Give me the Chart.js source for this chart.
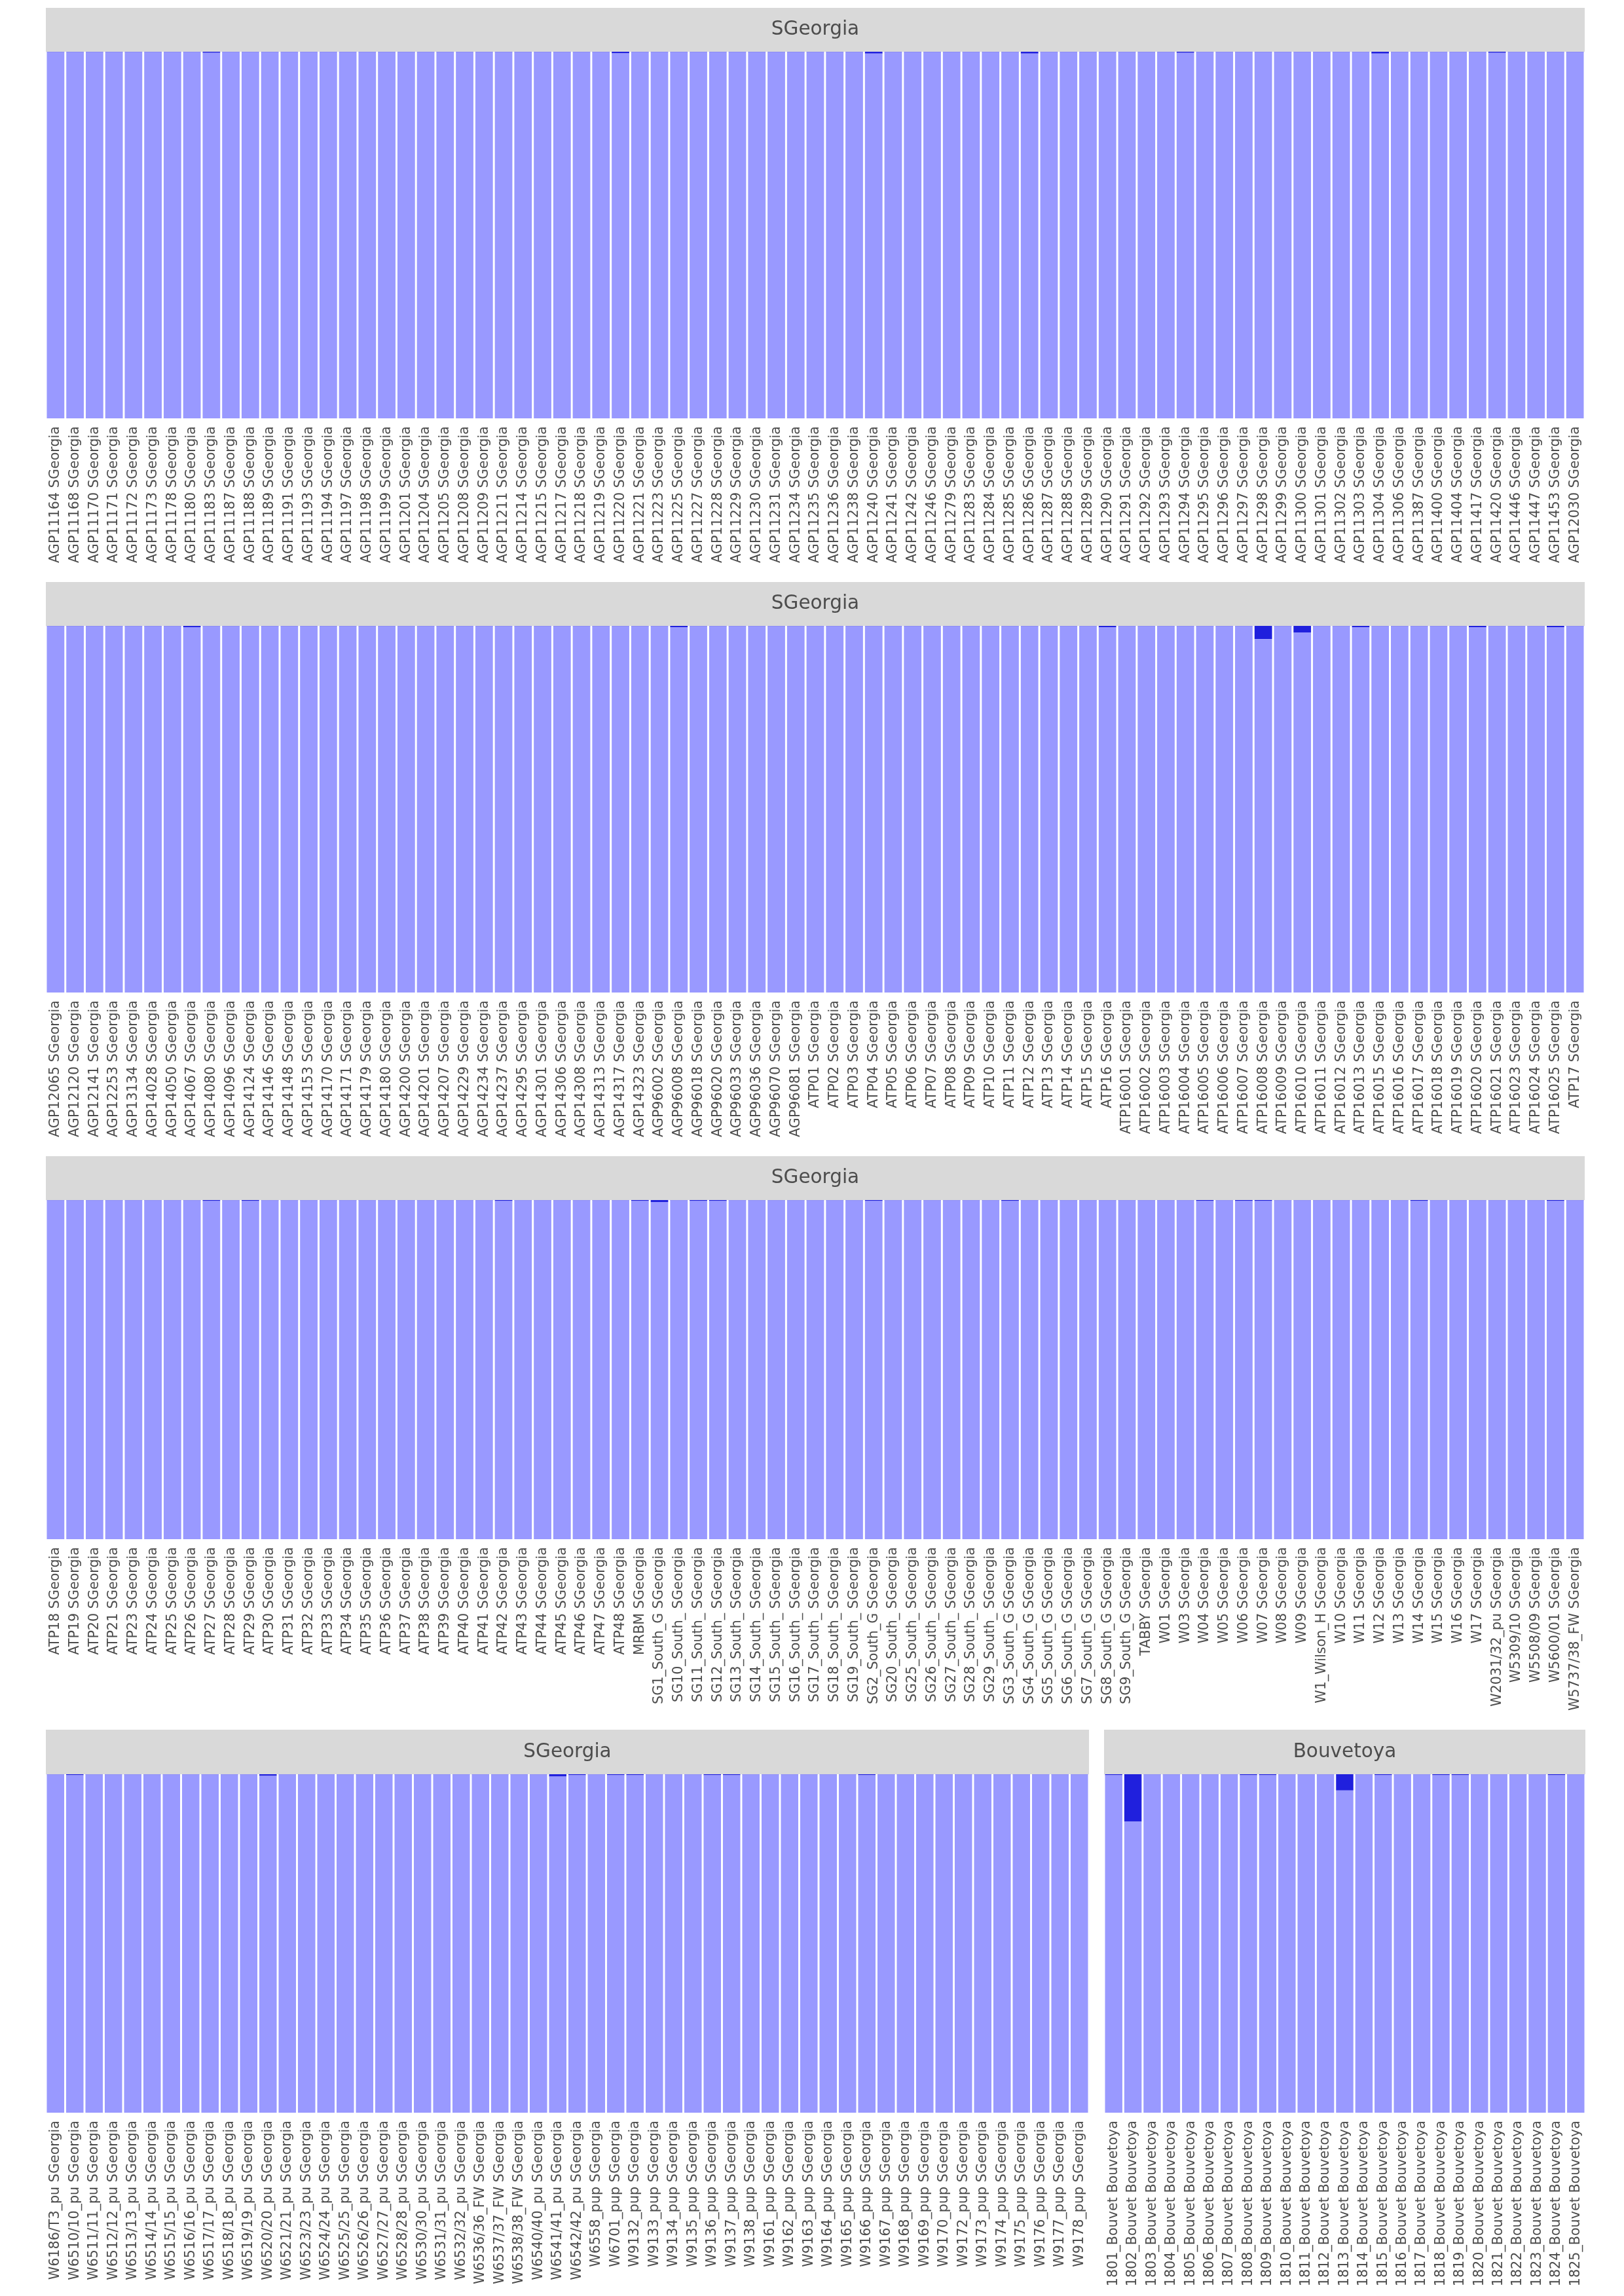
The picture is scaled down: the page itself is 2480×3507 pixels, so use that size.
<!DOCTYPE html>
<html><head><meta charset="utf-8">
<script src="https://cdn.jsdelivr.net/npm/chart.js@4.4.0/dist/chart.umd.min.js"></script>
<style>
html,body{margin:0;padding:0;background:#ffffff;}
body{width:2480px;height:3507px;position:relative;overflow:hidden;}
canvas{position:absolute;}
</style></head><body>
<canvas id="c1"></canvas>
<canvas id="c2"></canvas>
<canvas id="c3"></canvas>
<canvas id="c4"></canvas>
<canvas id="c5"></canvas>
<script>
// ---------------- DATA ----------------
const popSG = "SGeorgia";
const popBV = "Bouvetoya";

const row1Ids = ["AGP11164","AGP11168","AGP11170","AGP11171","AGP11172","AGP11173","AGP11178","AGP11180","AGP11183","AGP11187",
"AGP11188","AGP11189","AGP11191","AGP11193","AGP11194","AGP11197","AGP11198","AGP11199","AGP11201","AGP11204",
"AGP11205","AGP11208","AGP11209","AGP11211","AGP11214","AGP11215","AGP11217","AGP11218","AGP11219","AGP11220",
"AGP11221","AGP11223","AGP11225","AGP11227","AGP11228","AGP11229","AGP11230","AGP11231","AGP11234","AGP11235",
"AGP11236","AGP11238","AGP11240","AGP11241","AGP11242","AGP11246","AGP11279","AGP11283","AGP11284","AGP11285",
"AGP11286","AGP11287","AGP11288","AGP11289","AGP11290","AGP11291","AGP11292","AGP11293","AGP11294","AGP11295",
"AGP11296","AGP11297","AGP11298","AGP11299","AGP11300","AGP11301","AGP11302","AGP11303","AGP11304","AGP11306",
"AGP11387","AGP11400","AGP11404","AGP11417","AGP11420","AGP11446","AGP11447","AGP11453","AGP12030"];
const row1Dark = [0.001,0.001,0.001,0.001,0.001,0.001,0.001,0.001,0.003,0.001,
0.001,0.001,0.001,0.001,0.001,0.001,0.001,0.001,0.001,0.001,
0.001,0.001,0.001,0.001,0.001,0.001,0.001,0.001,0.001,0.0045,
0.001,0.001,0.001,0.001,0.001,0.001,0.001,0.001,0.001,0.001,
0.001,0.001,0.005,0.001,0.001,0.001,0.001,0.001,0.001,0.001,
0.005,0.001,0.001,0.001,0.001,0.001,0.001,0.001,0.003,0.001,
0.001,0.001,0.001,0.001,0.001,0.001,0.001,0.001,0.005,0.001,
0.001,0.001,0.001,0.001,0.003,0.001,0.001,0.001,0.001];
const row1Light = [0.999,0.999,0.999,0.999,0.999,0.999,0.999,0.999,0.997,0.999,
0.999,0.999,0.999,0.999,0.999,0.999,0.999,0.999,0.999,0.999,
0.999,0.999,0.999,0.999,0.999,0.999,0.999,0.999,0.999,0.9955,
0.999,0.999,0.999,0.999,0.999,0.999,0.999,0.999,0.999,0.999,
0.999,0.999,0.995,0.999,0.999,0.999,0.999,0.999,0.999,0.999,
0.995,0.999,0.999,0.999,0.999,0.999,0.999,0.999,0.997,0.999,
0.999,0.999,0.999,0.999,0.999,0.999,0.999,0.999,0.995,0.999,
0.999,0.999,0.999,0.999,0.997,0.999,0.999,0.999,0.999];

const row2Ids = ["AGP12065","AGP12120","AGP12141","AGP12253","AGP13134","AGP14028","AGP14050","AGP14067","AGP14080","AGP14096",
"AGP14124","AGP14146","AGP14148","AGP14153","AGP14170","AGP14171","AGP14179","AGP14180","AGP14200","AGP14201",
"AGP14207","AGP14229","AGP14234","AGP14237","AGP14295","AGP14301","AGP14306","AGP14308","AGP14313","AGP14317",
"AGP14323","AGP96002","AGP96008","AGP96018","AGP96020","AGP96033","AGP96036","AGP96070","AGP96081","ATP01",
"ATP02","ATP03","ATP04","ATP05","ATP06","ATP07","ATP08","ATP09","ATP10","ATP11",
"ATP12","ATP13","ATP14","ATP15","ATP16","ATP16001","ATP16002","ATP16003","ATP16004","ATP16005",
"ATP16006","ATP16007","ATP16008","ATP16009","ATP16010","ATP16011","ATP16012","ATP16013","ATP16015","ATP16016",
"ATP16017","ATP16018","ATP16019","ATP16020","ATP16021","ATP16023","ATP16024","ATP16025","ATP17"];
const row2Dark = [0.001,0.001,0.001,0.001,0.001,0.001,0.001,0.0035,0.001,0.001,
0.001,0.001,0.001,0.001,0.001,0.001,0.001,0.001,0.001,0.001,
0.001,0.001,0.001,0.001,0.001,0.001,0.001,0.001,0.001,0.001,
0.001,0.001,0.004,0.001,0.001,0.001,0.001,0.001,0.001,0.001,
0.001,0.001,0.001,0.001,0.001,0.001,0.001,0.001,0.001,0.001,
0.001,0.001,0.001,0.001,0.004,0.001,0.001,0.001,0.001,0.001,
0.001,0.001,0.036,0.001,0.018,0.001,0.001,0.004,0.001,0.001,
0.001,0.001,0.001,0.004,0.001,0.001,0.001,0.004,0.001];
const row2Light = [0.999,0.999,0.999,0.999,0.999,0.999,0.999,0.9965,0.999,0.999,
0.999,0.999,0.999,0.999,0.999,0.999,0.999,0.999,0.999,0.999,
0.999,0.999,0.999,0.999,0.999,0.999,0.999,0.999,0.999,0.999,
0.999,0.999,0.996,0.999,0.999,0.999,0.999,0.999,0.999,0.999,
0.999,0.999,0.999,0.999,0.999,0.999,0.999,0.999,0.999,0.999,
0.999,0.999,0.999,0.999,0.996,0.999,0.999,0.999,0.999,0.999,
0.999,0.999,0.964,0.999,0.982,0.999,0.999,0.996,0.999,0.999,
0.999,0.999,0.999,0.996,0.999,0.999,0.999,0.996,0.999];

const row3Ids = ["ATP18","ATP19","ATP20","ATP21","ATP23","ATP24","ATP25","ATP26","ATP27","ATP28",
"ATP29","ATP30","ATP31","ATP32","ATP33","ATP34","ATP35","ATP36","ATP37","ATP38",
"ATP39","ATP40","ATP41","ATP42","ATP43","ATP44","ATP45","ATP46","ATP47","ATP48",
"MRBM","SG1_South_G","SG10_South_","SG11_South_","SG12_South_","SG13_South_","SG14_South_","SG15_South_","SG16_South_","SG17_South_",
"SG18_South_","SG19_South_","SG2_South_G","SG20_South_","SG25_South_","SG26_South_","SG27_South_","SG28_South_","SG29_South_","SG3_South_G",
"SG4_South_G","SG5_South_G","SG6_South_G","SG7_South_G","SG8_South_G","SG9_South_G","TABBY","W01","W03","W04",
"W05","W06","W07","W08","W09","W1_Wilson_H","W10","W11","W12","W13",
"W14","W15","W16","W17","W2031/32_pu","W5309/10","W5508/09","W5600/01","W5737/38_FW"];
const row3Dark = [0.001,0.001,0.001,0.001,0.001,0.001,0.001,0.001,0.003,0.001,
0.003,0.001,0.001,0.001,0.001,0.001,0.001,0.001,0.001,0.001,
0.001,0.001,0.001,0.003,0.001,0.001,0.001,0.001,0.001,0.001,
0.003,0.006,0.001,0.003,0.003,0.001,0.001,0.001,0.001,0.001,
0.001,0.001,0.003,0.001,0.001,0.001,0.001,0.001,0.001,0.003,
0.001,0.001,0.001,0.001,0.001,0.001,0.001,0.001,0.001,0.003,
0.001,0.003,0.003,0.001,0.001,0.001,0.001,0.001,0.001,0.001,
0.003,0.001,0.001,0.001,0.001,0.001,0.001,0.003,0.001];
const row3Light = [0.999,0.999,0.999,0.999,0.999,0.999,0.999,0.999,0.997,0.999,
0.997,0.999,0.999,0.999,0.999,0.999,0.999,0.999,0.999,0.999,
0.999,0.999,0.999,0.997,0.999,0.999,0.999,0.999,0.999,0.999,
0.997,0.994,0.999,0.997,0.997,0.999,0.999,0.999,0.999,0.999,
0.999,0.999,0.997,0.999,0.999,0.999,0.999,0.999,0.999,0.997,
0.999,0.999,0.999,0.999,0.999,0.999,0.999,0.999,0.999,0.997,
0.999,0.997,0.997,0.999,0.999,0.999,0.999,0.999,0.999,0.999,
0.997,0.999,0.999,0.999,0.999,0.999,0.999,0.997,0.999];

const row4Ids = ["W6186/T3_pu","W6510/10_pu","W6511/11_pu","W6512/12_pu","W6513/13_pu","W6514/14_pu","W6515/15_pu","W6516/16_pu","W6517/17_pu","W6518/18_pu",
"W6519/19_pu","W6520/20_pu","W6521/21_pu","W6523/23_pu","W6524/24_pu","W6525/25_pu","W6526/26_pu","W6527/27_pu","W6528/28_pu","W6530/30_pu",
"W6531/31_pu","W6532/32_pu","W6536/36_FW","W6537/37_FW","W6538/38_FW","W6540/40_pu","W6541/41_pu","W6542/42_pu","W6558_pup","W6701_pup",
"W9132_pup","W9133_pup","W9134_pup","W9135_pup","W9136_pup","W9137_pup","W9138_pup","W9161_pup","W9162_pup","W9163_pup",
"W9164_pup","W9165_pup","W9166_pup","W9167_pup","W9168_pup","W9169_pup","W9170_pup","W9172_pup","W9173_pup","W9174_pup",
"W9175_pup","W9176_pup","W9177_pup","W9178_pup"];
const row4Dark = [0.001,0.003,0.001,0.001,0.001,0.001,0.001,0.001,0.001,0.001,
0.001,0.005,0.001,0.001,0.001,0.001,0.001,0.001,0.001,0.001,
0.001,0.001,0.001,0.001,0.001,0.001,0.007,0.003,0.001,0.003,
0.003,0.001,0.001,0.001,0.003,0.003,0.001,0.001,0.001,0.001,
0.001,0.001,0.003,0.001,0.001,0.001,0.001,0.001,0.001,0.001,
0.001,0.001,0.001,0.001];
const row4Light = [0.999,0.997,0.999,0.999,0.999,0.999,0.999,0.999,0.999,0.999,
0.999,0.995,0.999,0.999,0.999,0.999,0.999,0.999,0.999,0.999,
0.999,0.999,0.999,0.999,0.999,0.999,0.993,0.997,0.999,0.997,
0.997,0.999,0.999,0.999,0.997,0.997,0.999,0.999,0.999,0.999,
0.999,0.999,0.997,0.999,0.999,0.999,0.999,0.999,0.999,0.999,
0.999,0.999,0.999,0.999];

const bouvetIds = ["1801_Bouvet","1802_Bouvet","1803_Bouvet","1804_Bouvet","1805_Bouvet","1806_Bouvet","1807_Bouvet","1808_Bouvet","1809_Bouvet","1810_Bouvet",
"1811_Bouvet","1812_Bouvet","1813_Bouvet","1814_Bouvet","1815_Bouvet","1816_Bouvet","1817_Bouvet","1818_Bouvet","1819_Bouvet","1820_Bouvet",
"1821_Bouvet","1822_Bouvet","1823_Bouvet","1824_Bouvet","1825_Bouvet"];
const bouvetDark = [0.003,0.14,0.001,0.001,0.001,0.001,0.001,0.003,0.003,0.001,
0.001,0.001,0.048,0.001,0.003,0.001,0.001,0.003,0.003,0.001,
0.001,0.001,0.001,0.003,0.001];
const bouvetLight = [0.997,0.86,0.999,0.999,0.999,0.999,0.999,0.997,0.997,0.999,
0.999,0.999,0.952,0.999,0.997,0.999,0.999,0.997,0.997,0.999,
0.999,0.999,0.999,0.997,0.999];

// ---------------- LAYOUT / STYLE ----------------
const LIGHT_COLOR = "#9999FF";
const DARK_COLOR = "#2020DD";
const STRIP_BG = "#D9D9D9";
const TEXT_COLOR = "#4D4D4D";
const FONT = "'DejaVu Sans', 'Liberation Sans', sans-serif";

// axis: height of the x scale box (tick labels are clipped to it)
const panels = [
  {canvas:"c1", ids:row1Ids, pop:popSG, light:row1Light, dark:row1Dark, left:70,   top:12,   width:2350, strip:67, plot:560, axis:300},
  {canvas:"c2", ids:row2Ids, pop:popSG, light:row2Light, dark:row2Dark, left:70,   top:889,  width:2350, strip:67, plot:560, axis:300},
  {canvas:"c3", ids:row3Ids, pop:popSG, light:row3Light, dark:row3Dark, left:70,   top:1766, width:2350, strip:67, plot:518, axis:300},
  {canvas:"c4", ids:row4Ids, pop:popSG, light:row4Light, dark:row4Dark, left:70,   top:2642, width:1593, strip:68, plot:517, axis:290},
  {canvas:"c5", ids:bouvetIds, pop:popBV, light:bouvetLight, dark:bouvetDark, left:1686, top:2642, width:735, strip:68, plot:517, axis:290}
];

const stripPlugin = {
  id: "stripBg",
  beforeDraw(chart) {
    const a = chart.chartArea;
    const ctx = chart.ctx;
    ctx.save();
    ctx.fillStyle = STRIP_BG;
    ctx.fillRect(a.left, 0, a.right - a.left, a.top);
    ctx.restore();
  }
};

Chart.defaults.font.family = FONT;

panels.forEach(p => {
  const cv = document.getElementById(p.canvas);
  const h = p.strip + p.plot + p.axis;
  cv.width = p.width; cv.height = h;
  cv.style.left = p.left + "px"; cv.style.top = p.top + "px";
  cv.style.width = p.width + "px"; cv.style.height = h + "px";
  const labels = p.ids.map(id => id + " " + p.pop);
  new Chart(cv, {
    type: "bar",
    data: {
      labels: labels,
      datasets: [
        {label: "K1", data: p.light, backgroundColor: LIGHT_COLOR, borderWidth: 0, barPercentage: 0.9, categoryPercentage: 1.0},
        {label: "K2", data: p.dark, backgroundColor: DARK_COLOR, borderWidth: 0, barPercentage: 0.9, categoryPercentage: 1.0}
      ]
    },
    options: {
      responsive: false,
      animation: false,
      devicePixelRatio: 1,
      layout: {padding: 0},
      plugins: {
        legend: {display: false},
        tooltip: {enabled: false},
        title: {
          display: true,
          text: p.pop,
          color: TEXT_COLOR,
          padding: 0,
          font: {family: FONT, size: 29.5, weight: "normal", lineHeight: p.strip / 29.5}
        }
      },
      scales: {
        x: {
          stacked: true,
          offset: true,
          grid: {display: false, drawTicks: false},
          border: {display: false},
          ticks: {
            autoSkip: false,
            minRotation: 90,
            maxRotation: 90,
            padding: 12,
            color: TEXT_COLOR,
            font: {family: FONT, size: 20.7}
          },
          afterFit: (s) => {
            s.height = p.axis;
            s.paddingLeft = 0; s.paddingRight = 0; s.paddingTop = 0; s.paddingBottom = 0;
          }
        },
        y: {
          stacked: true,
          display: false,
          min: 0,
          max: 1
        }
      }
    },
    plugins: [stripPlugin]
  });
});
</script>
</body></html>
